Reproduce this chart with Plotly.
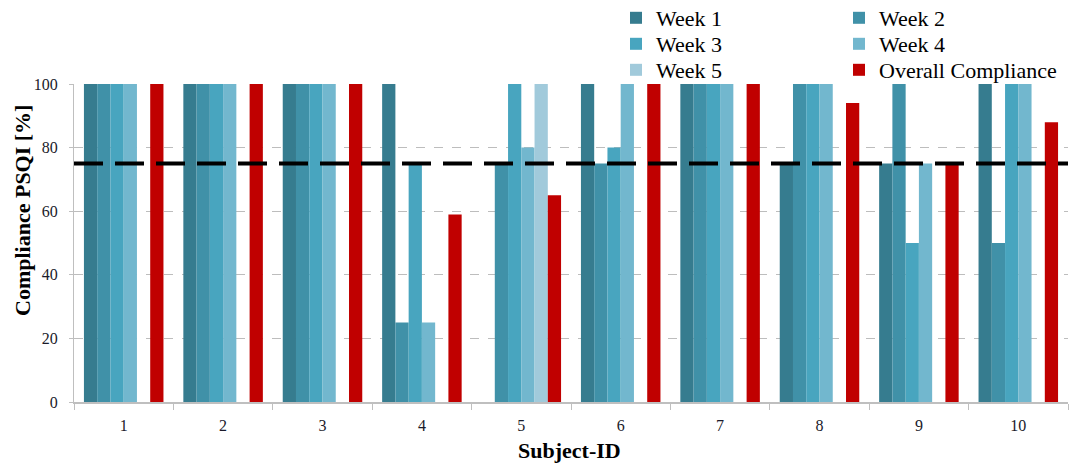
import plotly.graph_objects as go

subjects = ["1", "2", "3", "4", "5", "6", "7", "8", "9", "10"]
week1 = [100, 100, 100, 100, None, 100, 100, 75, 75, 100]
week2 = [100, 100, 100, 25, 75, 75, 100, 100, 100, 50]
week3 = [100, 100, 100, 75, 100, 80, 100, 100, 50, 100]
week4 = [100, 100, 100, 25, 80, 100, 100, 100, 75, 100]
week5 = [None, None, None, None, 100, None, None, None, None, None]
overall = [100, 100, 100, 59, 65, 100, 100, 94, 75, 88]
threshold = 75

series = [
    ("Week 1", week1, "#367C8F"),
    ("Week 2", week2, "#4091A8"),
    ("Week 3", week3, "#48A5BF"),
    ("Week 4", week4, "#72B7CE"),
    ("Week 5", week5, "#A1CADB"),
    ("Overall Compliance", overall, "#C00000"),
]

FONT = "Liberation Serif"
W, H = 1070, 468
L, R, T, B = 74, 2, 84, 66
pw, ph = W - L - R, H - T - B

def px2x(px):
    return (px - L) / pw

def px2y(py):
    return (H - B - py) / ph

# legend positions (pixel positions of each entry's text start / row centre)
leg_pos = [(656, 18), (879, 18), (656, 44), (879, 44), (656, 70), (879, 70)]

fig = go.Figure()
for i, (name, vals, col) in enumerate(series):
    lname = "legend" if i == 0 else f"legend{i+1}"
    fig.add_trace(go.Bar(
        x=subjects, y=vals, name=name, legend=lname, showlegend=True,
        marker=dict(color=col, line=dict(width=0)),
    ))

layout_legends = {}
for i, (tx, ty) in enumerate(leg_pos):
    lname = "legend" if i == 0 else f"legend{i+1}"
    layout_legends[lname] = dict(
        xref="container", yref="container",
        x=(tx - 40) / W, y=1 - ty / H, xanchor="left", yanchor="middle",
        font=dict(family=FONT, size=22, color="#000000"),
        bgcolor="rgba(0,0,0,0)", borderwidth=0,
    )

fig.add_shape(
    type="line", xref="paper", yref="y", x0=0, x1=1, y0=threshold, y1=threshold,
    line=dict(color="#000000", width=4, dash="29px,12px"), layer="above",
)

fig.add_annotation(
    text="<b>Compliance PSQI [%]</b>", xref="paper", yref="paper",
    x=px2x(22), y=px2y(211), textangle=-90, showarrow=False,
    font=dict(family=FONT, size=22, color="#000000"),
    xanchor="center", yanchor="middle",
)
fig.add_annotation(
    text="<b>Subject-ID</b>", xref="paper", yref="paper",
    x=px2x(569), y=px2y(450), showarrow=False,
    font=dict(family=FONT, size=22, color="#000000"),
    xanchor="center", yanchor="middle",
)

fig.update_layout(
    width=W, height=H, showlegend=True,
    margin=dict(l=L, r=R, t=T, b=B, pad=0, autoexpand=False),
    barmode="group", bargap=0.2, bargroupgap=0,
    plot_bgcolor="white", paper_bgcolor="white",
    font=dict(family=FONT, size=16, color="#1a1a2a"),
    **layout_legends,
)
fig.update_xaxes(
    type="category", showline=True, linecolor="#BFBFBF", linewidth=1.5,
    ticks="outside", tickson="boundaries", ticklen=6, tickcolor="#BFBFBF",
    showgrid=False, ticklabelstandoff=8, automargin=False,
    tickfont=dict(family=FONT, size=16, color="#1a1a2a"),
)
fig.update_yaxes(
    range=[0, 100], dtick=20, showline=True, linecolor="#BFBFBF", linewidth=1,
    ticks="outside", ticklen=4, tickcolor="#BFBFBF",
    showgrid=True, gridcolor="#BDBDBD", griddash="dash", gridwidth=1,
    zeroline=False, ticklabelstandoff=8, automargin=False,
    tickfont=dict(family=FONT, size=16, color="#1a1a2a"),
)

fig.write_html("out.html")
